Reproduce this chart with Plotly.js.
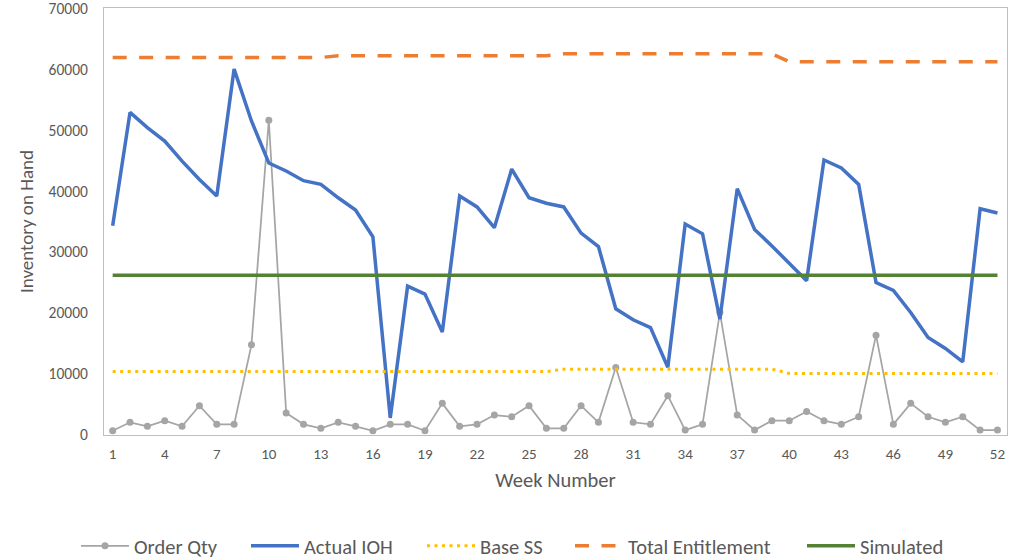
<!DOCTYPE html>
<html>
<head>
<meta charset="utf-8">
<script src="https://cdn.plot.ly/plotly-3.0.1.min.js"></script>
<style>html,body{margin:0;padding:0;background:#fff;}#chart{width:1023px;height:560px;}</style>
</head>
<body>
<div id="chart"></div>
<script>
var weeks = [];
for (var i = 1; i <= 52; i++) weeks.push(i);

var orderQty = [700, 2080, 1420, 2340, 1420, 4800, 1750, 1750, 14780, 51620,
  3600, 1750, 1100, 2080, 1420, 700, 1750, 1750, 700, 5190,
  1420, 1750, 3270, 3000, 4800, 1100, 1100, 4800, 2080, 11080,
  2080, 1750, 6440, 800, 1750, 20080, 3300, 800, 2340, 2340,
  3870, 2340, 1750, 3000, 16370, 1750, 5190, 3000, 2080, 3000,
  800, 800];

var actualIOH = [34300, 52900, 50400, 48200, 44900, 41900, 39200, 60000, 51500, 44600,
  43300, 41700, 41100, 38900, 36900, 32500, 2800, 24400, 23100, 16900,
  39200, 37400, 34000, 43600, 38900, 38000, 37400, 33100, 30900, 20700,
  18900, 17600, 11100, 34600, 33000, 19000, 40400, 33700, 31000, 28200,
  25300, 45100, 43800, 41100, 25000, 23700, 20100, 16000, 14200, 12000,
  37100, 36400];

var baseSS = [10400, 10400, 10400, 10400, 10400, 10400, 10400, 10400, 10400, 10400,
  10400, 10400, 10400, 10400, 10400, 10400, 10400, 10400, 10400, 10400,
  10400, 10400, 10400, 10400, 10400, 10400, 10800, 10800, 10800, 10800,
  10800, 10800, 10800, 10800, 10800, 10800, 10800, 10800, 10800, 10100,
  10100, 10100, 10100, 10100, 10100, 10100, 10100, 10100, 10100, 10100,
  10100, 10100];

var totalEntitlement = [61900, 61900, 61900, 61900, 61900, 61900, 61900, 61900, 61900, 61900,
  61900, 61900, 61900, 62200, 62200, 62200, 62200, 62200, 62200, 62200,
  62200, 62200, 62200, 62200, 62200, 62200, 62500, 62500, 62500, 62500,
  62500, 62500, 62500, 62500, 62500, 62500, 62500, 62500, 62500, 61200,
  61200, 61200, 61200, 61200, 61200, 61200, 61200, 61200, 61200, 61200,
  61200, 61200];

var simulated = [];
for (var j = 0; j < 52; j++) simulated.push(26200);

var xTickVals = [1, 4, 7, 10, 13, 16, 19, 22, 25, 28, 31, 34, 37, 40, 43, 46, 49, 52];
var yTickVals = [0, 10000, 20000, 30000, 40000, 50000, 60000, 70000];

var FONT = 'Carlito, Lato, "Liberation Sans", sans-serif';
var TXT = '#595959';

var traces = [
  {x: weeks, y: orderQty, name: 'Order Qty', type: 'scatter', mode: 'lines+markers', legend: 'legend',
   line: {color: '#A5A5A5', width: 1.75}, marker: {color: '#A5A5A5', size: 7}},
  {x: weeks, y: actualIOH, name: 'Actual IOH', type: 'scatter', mode: 'lines', legend: 'legend2',
   line: {color: '#4472C4', width: 3.5}},
  {x: weeks, y: baseSS, name: 'Base SS', type: 'scatter', mode: 'lines', legend: 'legend3',
   line: {color: '#FFC000', width: 3, dash: '3px,4.5px'}},
  {x: weeks, y: totalEntitlement, name: 'Total Entitlement', type: 'scatter', mode: 'lines', legend: 'legend4',
   line: {color: '#ED7D31', width: 3.5, dash: '14px,12.5px'}},
  {x: weeks, y: simulated, name: 'Simulated', type: 'scatter', mode: 'lines', legend: 'legend5',
   line: {color: '#548235', width: 3.5}}
];

function leg(px) {
  return {orientation: 'h', xref: 'container', yref: 'container',
          x: px / 1023, xanchor: 'left', y: 1 - 546 / 560, yanchor: 'middle',
          bgcolor: 'rgba(0,0,0,0)', itemwidth: 48,
          font: {family: FONT, size: 20.5, color: TXT}};
}

var layout = {
  width: 1023, height: 560,
  margin: {l: 104, r: 16, t: 8, b: 124.5},
  paper_bgcolor: '#fff', plot_bgcolor: '#fff',
  font: {family: FONT, color: TXT, size: 15},
  showlegend: true,
  legend: leg(76),
  legend2: leg(246),
  legend3: leg(422),
  legend4: leg(570),
  legend5: leg(802),
  xaxis: {range: [0.5, 52.55], tickmode: 'array', tickvals: xTickVals,
          showgrid: false, zeroline: false, showline: true, mirror: true,
          linecolor: '#BFBFBF', linewidth: 1, ticks: '', ticklabelstandoff: 5,
          automargin: false, ticklabeloverflow: 'allow',
          tickfont: {family: FONT, size: 15, color: TXT},
          title: {text: 'Week Number', font: {family: FONT, size: 20.5, color: TXT}, standoff: 10}},
  yaxis: {range: [0, 70020], tickmode: 'array', tickvals: yTickVals,
          showgrid: false, zeroline: false,
          showline: true, mirror: true, linecolor: '#BFBFBF', linewidth: 1, ticks: '',
          ticklabelstandoff: 12, automargin: false, ticklabeloverflow: 'allow',
          tickformat: 'd', tickfont: {family: FONT, size: 15.5, color: TXT},
          title: {text: 'Inventory on Hand', font: {family: FONT, size: 19, color: TXT}, standoff: 9}}
};

Plotly.newPlot('chart', traces, layout, {displayModeBar: false, staticPlot: true});
</script>
</body>
</html>
